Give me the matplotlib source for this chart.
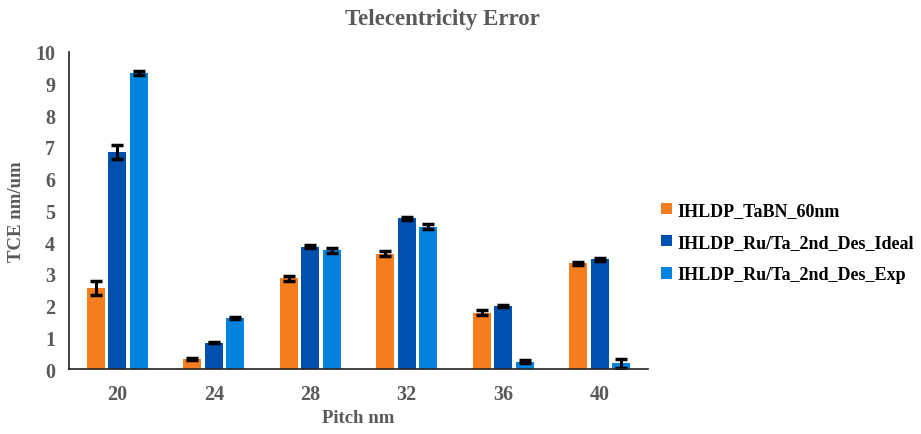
import numpy as np
import matplotlib.pyplot as plt
from matplotlib.patches import Patch

pitch = ['20', '24', '28', '32', '36', '40']
series = ['IHLDP_TaBN_60nm', 'IHLDP_Ru/Ta_2nd_Des_Ideal', 'IHLDP_Ru/Ta_2nd_Des_Exp']

tabn = [2.55, 0.32, 2.86, 3.63, 1.78, 3.34]
ideal = [6.85, 0.84, 3.86, 4.75, 2.00, 3.46]
exp = [9.33, 1.60, 3.74, 4.49, 0.23, 0.18]

tabn_err = [0.22, 0.04, 0.08, 0.08, 0.08, 0.05]
ideal_err = [0.22, 0.03, 0.04, 0.05, 0.03, 0.04]
exp_err = [0.07, 0.03, 0.07, 0.07, 0.05, 0.13]

colors = ['#F47D20', '#0050B0', '#0083DE']
gray = '#595959'

plt.rcParams['font.family'] = ['Liberation Serif', 'DejaVu Serif']
plt.rcParams['font.weight'] = 'bold'

fig = plt.figure(figsize=(9.21, 4.35), dpi=100)
ax = fig.add_axes([0.0749, 0.149, 0.6287, 0.730])

x = np.arange(len(pitch))
step = 0.223
width = 0.19
for i, (vals, errs) in enumerate([(tabn, tabn_err), (ideal, ideal_err), (exp, exp_err)]):
    ax.bar(x + (i - 1) * step, vals, width, color=colors[i], label=series[i],
           yerr=errs, error_kw=dict(ecolor='black', elinewidth=2.2, capsize=4, capthick=2.5))

ax.set_xlim(-0.5, len(pitch) - 0.5)
ax.set_ylim(0, 10)
ax.set_yticks(range(0, 11))
ax.set_xticks(x)
ax.set_xticklabels(pitch)
ax.tick_params(axis='both', length=0, labelsize=14.5, labelcolor=gray)
ax.tick_params(axis='x', pad=11)
ax.tick_params(axis='y', pad=10)
for lbl in ax.get_xticklabels() + ax.get_yticklabels():
    lbl.set_fontweight('bold')

for side in ['top', 'right']:
    ax.spines[side].set_visible(False)
ax.spines['left'].set_color('#222222')
ax.spines['bottom'].set_color('#222222')
ax.spines['left'].set_linewidth(1.2)
ax.spines['bottom'].set_linewidth(1.2)

ax.set_xlabel('Pitch nm', fontsize=13.5, fontweight='bold', color=gray, labelpad=3)
ax.set_ylabel('TCE nm/um', fontsize=13.5, fontweight='bold', color=gray, labelpad=7)

fig.text(0.48, 0.955, 'Telecentricity Error', ha='center', va='center',
         fontsize=16.5, fontweight='bold', color=gray)

handles = [Patch(facecolor=c) for c in colors]
fig.legend(handles, series, loc='center left', bbox_to_anchor=(0.700, 0.44),
           frameon=False, prop=dict(size=13, weight='bold'),
           handlelength=0.6, handleheight=0.6, handletextpad=0.3, labelspacing=0.85)

fig.savefig('out.png', dpi=100)
